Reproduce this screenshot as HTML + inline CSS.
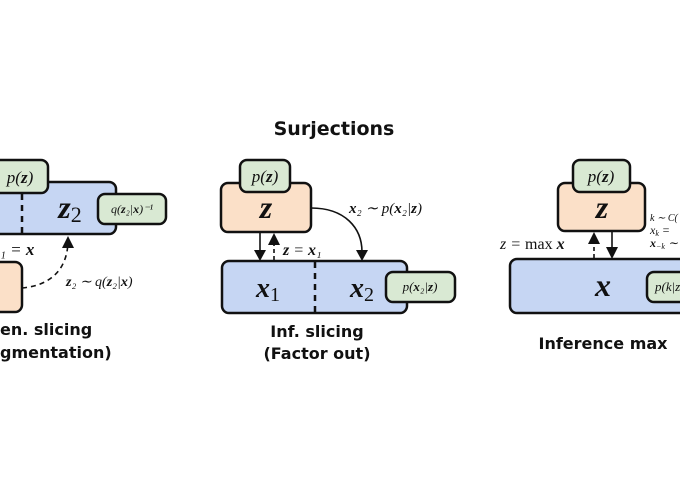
<!DOCTYPE html>
<html><head><meta charset="utf-8"><style>
html,body{margin:0;padding:0;background:#fff;width:680px;height:500px;overflow:hidden}
svg{display:block}
.m{font-family:"Liberation Serif",serif;font-style:italic;fill:#111}
.b{font-family:"DejaVu Sans","Liberation Sans",sans-serif;font-weight:bold;fill:#111}
</style></head><body>
<svg width="680" height="500" viewBox="0 0 680 500" xmlns="http://www.w3.org/2000/svg">
<text x="334" y="135" text-anchor="middle" class="b" font-size="19">Surjections</text>

<!-- LEFT -->
<rect x="-20" y="182" width="136" height="52" rx="7" fill="#c6d6f3" stroke="#111" stroke-width="2.5"/>
<rect x="-20" y="160" width="68" height="33" rx="7" fill="#d9e9d3" stroke="#111" stroke-width="2.5"/>
<text x="20" y="183" text-anchor="middle" class="m" font-size="17">p(<tspan font-weight="bold">z</tspan>)</text>
<line x1="22" y1="194" x2="22" y2="234" stroke="#111" stroke-width="2.5" stroke-dasharray="6,5"/>
<text x="70" y="218" text-anchor="middle" class="m" font-size="32" font-weight="bold">z<tspan font-style="normal" font-weight="normal" font-size="22" dy="4">2</tspan></text>
<rect x="98" y="194" width="68" height="30" rx="7" fill="#d9e9d3" stroke="#111" stroke-width="2.5"/>
<text x="132" y="213" text-anchor="middle" class="m" font-size="12">q(<tspan font-weight="bold">z</tspan>₂|<tspan font-weight="bold">x</tspan>)⁻¹</text>
<text x="0" y="255" class="m" font-size="17">₁ = <tspan font-weight="bold">x</tspan></text>
<rect x="-20" y="262" width="42" height="50" rx="7" fill="#fbe0c8" stroke="#111" stroke-width="2.5"/>
<path d="M22,288 C55,285 68,265 68,240" fill="none" stroke="#111" stroke-width="1.6" stroke-dasharray="5,4"/>
<path d="M62,248 L74,248 L68,236 z" fill="#111"/>
<text x="66" y="286" class="m" font-size="14"><tspan font-weight="bold">z</tspan>₂ ∼ q(<tspan font-weight="bold">z</tspan>₂|<tspan font-weight="bold">x</tspan>)</text>
<text x="0" y="335" class="b" font-size="16">en. slicing</text>
<text x="0" y="358" class="b" font-size="16">gmentation)</text>

<!-- MIDDLE -->
<rect x="222" y="261" width="185" height="52" rx="7" fill="#c6d6f3" stroke="#111" stroke-width="2.5"/>
<line x1="315" y1="262" x2="315" y2="312" stroke="#111" stroke-width="2.5" stroke-dasharray="6,5"/>
<text x="268" y="297" text-anchor="middle" class="m" font-size="28" font-weight="bold">x<tspan font-style="normal" font-weight="normal" font-size="20" dy="4">1</tspan></text>
<text x="362" y="297" text-anchor="middle" class="m" font-size="28" font-weight="bold">x<tspan font-style="normal" font-weight="normal" font-size="20" dy="4">2</tspan></text>
<rect x="386" y="272" width="69" height="30" rx="7" fill="#d9e9d3" stroke="#111" stroke-width="2.5"/>
<text x="420" y="291" text-anchor="middle" class="m" font-size="13">p(<tspan font-weight="bold">x</tspan>₂|<tspan font-weight="bold">z</tspan>)</text>
<rect x="221" y="183" width="90" height="49" rx="7" fill="#fbe0c8" stroke="#111" stroke-width="2.5"/>
<rect x="240" y="160" width="50" height="32" rx="7" fill="#d9e9d3" stroke="#111" stroke-width="2.5"/>
<text x="265" y="182" text-anchor="middle" class="m" font-size="17">p(<tspan font-weight="bold">z</tspan>)</text>
<text x="266" y="218" text-anchor="middle" class="m" font-size="32" font-weight="bold">z</text>
<line x1="260" y1="233" x2="260" y2="252" stroke="#111" stroke-width="1.6"/>
<path d="M254,250 L266,250 L260,261 z" fill="#111"/>
<line x1="274" y1="260" x2="274" y2="243" stroke="#111" stroke-width="1.6" stroke-dasharray="4,3"/>
<path d="M268,245 L280,245 L274,233 z" fill="#111"/>
<text x="283" y="255" class="m" font-size="16"><tspan font-weight="bold">z</tspan> = <tspan font-weight="bold">x</tspan>₁</text>
<path d="M311,208 C345,208 362,228 362,252" fill="none" stroke="#111" stroke-width="1.6"/>
<path d="M356,250 L368,250 L362,261 z" fill="#111"/>
<text x="349" y="213" class="m" font-size="15"><tspan font-weight="bold">x</tspan>₂ ∼ p(<tspan font-weight="bold">x</tspan>₂|<tspan font-weight="bold">z</tspan>)</text>
<text x="317" y="337" text-anchor="middle" class="b" font-size="16">Inf. slicing</text>
<text x="317" y="359" text-anchor="middle" class="b" font-size="16">(Factor out)</text>

<!-- RIGHT -->
<rect x="510" y="259" width="190" height="54" rx="7" fill="#c6d6f3" stroke="#111" stroke-width="2.5"/>
<text x="603" y="296" text-anchor="middle" class="m" font-size="32" font-weight="bold">x</text>
<rect x="647" y="272" width="50" height="30" rx="7" fill="#d9e9d3" stroke="#111" stroke-width="2.5"/>
<text x="655" y="291" class="m" font-size="13">p(k|z</text>
<rect x="558" y="183" width="87" height="48" rx="7" fill="#fbe0c8" stroke="#111" stroke-width="2.5"/>
<rect x="573" y="160" width="57" height="32" rx="7" fill="#d9e9d3" stroke="#111" stroke-width="2.5"/>
<text x="601" y="182" text-anchor="middle" class="m" font-size="17">p(<tspan font-weight="bold">z</tspan>)</text>
<text x="602" y="218" text-anchor="middle" class="m" font-size="32" font-weight="bold">z</text>
<line x1="594" y1="258" x2="594" y2="242" stroke="#111" stroke-width="1.6" stroke-dasharray="4,3"/>
<path d="M588,244 L600,244 L594,232 z" fill="#111"/>
<line x1="612" y1="232" x2="612" y2="249" stroke="#111" stroke-width="1.6"/>
<path d="M606,247 L618,247 L612,259 z" fill="#111"/>
<text x="500" y="249" class="m" font-size="16">z = <tspan font-style="normal">max</tspan> <tspan font-weight="bold">x</tspan></text>
<text x="650" y="221" class="m" font-size="10">k ∼ C(</text>
<text x="650" y="234" class="m" font-size="12">x<tspan font-size="8" dy="2">k</tspan><tspan dy="-2"> =</tspan></text>
<text x="650" y="247" class="m" font-size="12" font-weight="bold">x<tspan font-size="8" font-weight="normal" dy="2">−k</tspan><tspan dy="-2" font-weight="normal"> ∼</tspan></text>
<text x="603" y="349" text-anchor="middle" class="b" font-size="16">Inference max</text>
</svg>
</body></html>
